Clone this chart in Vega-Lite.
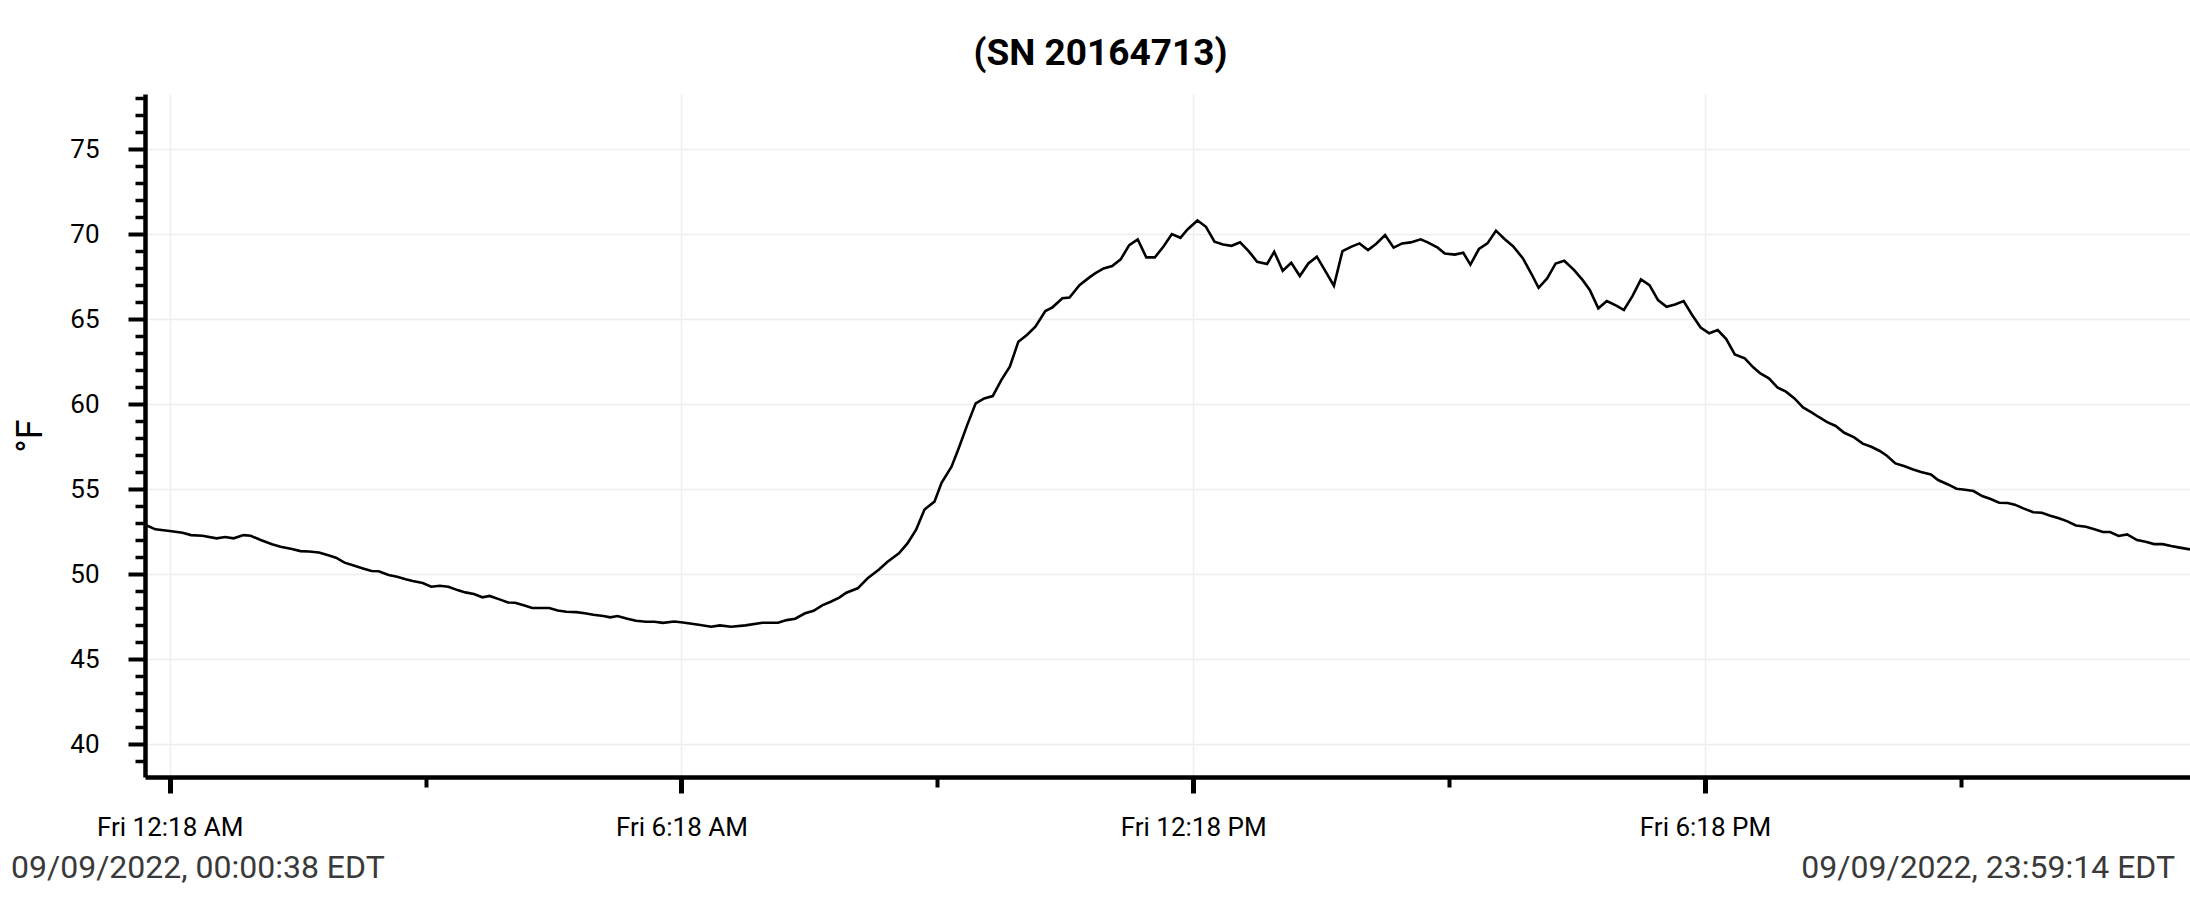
{
  "$schema": "https://vega.github.io/schema/vega-lite/v6.json",
  "autosize": {"type": "none"},
  "width": 2045,
  "height": 683,
  "padding": {"left": 145, "top": 94, "right": 0, "bottom": 126},
  "background": "white",
  "config": {
    "view": {"stroke": null},
    "font": "Roboto"
  },
  "title": {
    "text": "(SN 20164713)",
    "font": "Roboto",
    "fontSize": 37,
    "fontWeight": "bold",
    "color": "black",
    "anchor": "middle",
    "frame": "bounds",
    "baseline": "alphabetic",
    "offset": -17
  },
  "layer": [
    {
      "data": {
        "values": [
          {"t": "2022-09-09T00:00:38", "temp": 52.9},
          {"t": "2022-09-09T00:08", "temp": 52.63},
          {"t": "2022-09-09T00:18", "temp": 52.53},
          {"t": "2022-09-09T00:27", "temp": 52.43},
          {"t": "2022-09-09T00:33", "temp": 52.29},
          {"t": "2022-09-09T00:41", "temp": 52.25},
          {"t": "2022-09-09T00:51", "temp": 52.1},
          {"t": "2022-09-09T00:57", "temp": 52.18},
          {"t": "2022-09-09T01:03", "temp": 52.1},
          {"t": "2022-09-09T01:10", "temp": 52.29},
          {"t": "2022-09-09T01:15", "temp": 52.25},
          {"t": "2022-09-09T01:22", "temp": 52.0},
          {"t": "2022-09-09T01:30", "temp": 51.75},
          {"t": "2022-09-09T01:36", "temp": 51.6},
          {"t": "2022-09-09T01:44", "temp": 51.47},
          {"t": "2022-09-09T01:50", "temp": 51.35},
          {"t": "2022-09-09T01:56", "temp": 51.33},
          {"t": "2022-09-09T02:03", "temp": 51.27},
          {"t": "2022-09-09T02:09", "temp": 51.12},
          {"t": "2022-09-09T02:15", "temp": 50.96},
          {"t": "2022-09-09T02:21", "temp": 50.67},
          {"t": "2022-09-09T02:28", "temp": 50.49},
          {"t": "2022-09-09T02:34", "temp": 50.33},
          {"t": "2022-09-09T02:40", "temp": 50.18},
          {"t": "2022-09-09T02:45", "temp": 50.16},
          {"t": "2022-09-09T02:52", "temp": 49.94},
          {"t": "2022-09-09T02:58", "temp": 49.84},
          {"t": "2022-09-09T03:04", "temp": 49.69},
          {"t": "2022-09-09T03:09", "temp": 49.59},
          {"t": "2022-09-09T03:16", "temp": 49.47},
          {"t": "2022-09-09T03:22", "temp": 49.25},
          {"t": "2022-09-09T03:28", "temp": 49.31},
          {"t": "2022-09-09T03:34", "temp": 49.25},
          {"t": "2022-09-09T03:41", "temp": 49.04},
          {"t": "2022-09-09T03:46", "temp": 48.92},
          {"t": "2022-09-09T03:52", "temp": 48.82},
          {"t": "2022-09-09T03:58", "temp": 48.63},
          {"t": "2022-09-09T04:03", "temp": 48.71},
          {"t": "2022-09-09T04:10", "temp": 48.51},
          {"t": "2022-09-09T04:16", "temp": 48.33},
          {"t": "2022-09-09T04:21", "temp": 48.31},
          {"t": "2022-09-09T04:27", "temp": 48.16},
          {"t": "2022-09-09T04:33", "temp": 48.0},
          {"t": "2022-09-09T04:40", "temp": 48.0},
          {"t": "2022-09-09T04:45", "temp": 48.0},
          {"t": "2022-09-09T04:51", "temp": 47.86},
          {"t": "2022-09-09T04:57", "temp": 47.78},
          {"t": "2022-09-09T05:04", "temp": 47.76},
          {"t": "2022-09-09T05:10", "temp": 47.69},
          {"t": "2022-09-09T05:16", "temp": 47.61},
          {"t": "2022-09-09T05:23", "temp": 47.53},
          {"t": "2022-09-09T05:28", "temp": 47.45},
          {"t": "2022-09-09T05:33", "temp": 47.53},
          {"t": "2022-09-09T05:40", "temp": 47.37},
          {"t": "2022-09-09T05:46", "temp": 47.25},
          {"t": "2022-09-09T05:53", "temp": 47.19},
          {"t": "2022-09-09T05:59", "temp": 47.19},
          {"t": "2022-09-09T06:05", "temp": 47.13},
          {"t": "2022-09-09T06:13", "temp": 47.21},
          {"t": "2022-09-09T06:19", "temp": 47.15},
          {"t": "2022-09-09T06:29", "temp": 47.03},
          {"t": "2022-09-09T06:39", "temp": 46.9},
          {"t": "2022-09-09T06:45", "temp": 46.98},
          {"t": "2022-09-09T06:53", "temp": 46.9},
          {"t": "2022-09-09T07:03", "temp": 46.98},
          {"t": "2022-09-09T07:15", "temp": 47.13},
          {"t": "2022-09-09T07:26", "temp": 47.13},
          {"t": "2022-09-09T07:32", "temp": 47.29},
          {"t": "2022-09-09T07:38", "temp": 47.37},
          {"t": "2022-09-09T07:45", "temp": 47.69},
          {"t": "2022-09-09T07:51", "temp": 47.84},
          {"t": "2022-09-09T07:57", "temp": 48.16},
          {"t": "2022-09-09T08:03", "temp": 48.37},
          {"t": "2022-09-09T08:09", "temp": 48.61},
          {"t": "2022-09-09T08:14", "temp": 48.9},
          {"t": "2022-09-09T08:22", "temp": 49.16},
          {"t": "2022-09-09T08:29", "temp": 49.75},
          {"t": "2022-09-09T08:37", "temp": 50.27},
          {"t": "2022-09-09T08:43", "temp": 50.72},
          {"t": "2022-09-09T08:51", "temp": 51.22},
          {"t": "2022-09-09T08:57", "temp": 51.8},
          {"t": "2022-09-09T09:03", "temp": 52.59},
          {"t": "2022-09-09T09:09", "temp": 53.8},
          {"t": "2022-09-09T09:16", "temp": 54.26},
          {"t": "2022-09-09T09:21", "temp": 55.37},
          {"t": "2022-09-09T09:28", "temp": 56.31},
          {"t": "2022-09-09T09:33", "temp": 57.39},
          {"t": "2022-09-09T09:39", "temp": 58.76},
          {"t": "2022-09-09T09:45", "temp": 60.04},
          {"t": "2022-09-09T09:51", "temp": 60.33},
          {"t": "2022-09-09T09:57", "temp": 60.47},
          {"t": "2022-09-09T10:03", "temp": 61.41},
          {"t": "2022-09-09T10:09", "temp": 62.2},
          {"t": "2022-09-09T10:15", "temp": 63.67},
          {"t": "2022-09-09T10:21", "temp": 64.06},
          {"t": "2022-09-09T10:27", "temp": 64.55},
          {"t": "2022-09-09T10:34", "temp": 65.47},
          {"t": "2022-09-09T10:39", "temp": 65.69},
          {"t": "2022-09-09T10:46", "temp": 66.22},
          {"t": "2022-09-09T10:51", "temp": 66.27},
          {"t": "2022-09-09T10:58", "temp": 66.99},
          {"t": "2022-09-09T11:05", "temp": 67.45},
          {"t": "2022-09-09T11:09", "temp": 67.69},
          {"t": "2022-09-09T11:15", "temp": 67.98},
          {"t": "2022-09-09T11:21", "temp": 68.12},
          {"t": "2022-09-09T11:27", "temp": 68.51},
          {"t": "2022-09-09T11:33", "temp": 69.35},
          {"t": "2022-09-09T11:39", "temp": 69.69},
          {"t": "2022-09-09T11:45", "temp": 68.63},
          {"t": "2022-09-09T11:51", "temp": 68.63},
          {"t": "2022-09-09T11:57", "temp": 69.25},
          {"t": "2022-09-09T12:03", "temp": 70.0},
          {"t": "2022-09-09T12:09", "temp": 69.78},
          {"t": "2022-09-09T12:14", "temp": 70.27},
          {"t": "2022-09-09T12:21", "temp": 70.8},
          {"t": "2022-09-09T12:27", "temp": 70.43},
          {"t": "2022-09-09T12:33", "temp": 69.55},
          {"t": "2022-09-09T12:39", "temp": 69.39},
          {"t": "2022-09-09T12:45", "temp": 69.31},
          {"t": "2022-09-09T12:51", "temp": 69.51},
          {"t": "2022-09-09T12:57", "temp": 69.0},
          {"t": "2022-09-09T13:03", "temp": 68.37},
          {"t": "2022-09-09T13:10", "temp": 68.24},
          {"t": "2022-09-09T13:15", "temp": 68.96},
          {"t": "2022-09-09T13:21", "temp": 67.84},
          {"t": "2022-09-09T13:27", "temp": 68.31},
          {"t": "2022-09-09T13:33", "temp": 67.53},
          {"t": "2022-09-09T13:39", "temp": 68.27},
          {"t": "2022-09-09T13:45", "temp": 68.67},
          {"t": "2022-09-09T13:51", "temp": 67.82},
          {"t": "2022-09-09T13:57", "temp": 66.96},
          {"t": "2022-09-09T14:03", "temp": 69.0},
          {"t": "2022-09-09T14:09", "temp": 69.25},
          {"t": "2022-09-09T14:15", "temp": 69.45},
          {"t": "2022-09-09T14:21", "temp": 69.06},
          {"t": "2022-09-09T14:27", "temp": 69.45},
          {"t": "2022-09-09T14:33", "temp": 69.94},
          {"t": "2022-09-09T14:39", "temp": 69.2},
          {"t": "2022-09-09T14:45", "temp": 69.45},
          {"t": "2022-09-09T14:51", "temp": 69.51},
          {"t": "2022-09-09T14:58", "temp": 69.69},
          {"t": "2022-09-09T15:03", "temp": 69.51},
          {"t": "2022-09-09T15:10", "temp": 69.2},
          {"t": "2022-09-09T15:15", "temp": 68.85},
          {"t": "2022-09-09T15:22", "temp": 68.79},
          {"t": "2022-09-09T15:28", "temp": 68.9},
          {"t": "2022-09-09T15:33", "temp": 68.2},
          {"t": "2022-09-09T15:39", "temp": 69.12},
          {"t": "2022-09-09T15:45", "temp": 69.45},
          {"t": "2022-09-09T15:51", "temp": 70.2},
          {"t": "2022-09-09T15:57", "temp": 69.71},
          {"t": "2022-09-09T16:03", "temp": 69.29},
          {"t": "2022-09-09T16:10", "temp": 68.57},
          {"t": "2022-09-09T16:16", "temp": 67.65},
          {"t": "2022-09-09T16:21", "temp": 66.84},
          {"t": "2022-09-09T16:27", "temp": 67.39},
          {"t": "2022-09-09T16:33", "temp": 68.27},
          {"t": "2022-09-09T16:39", "temp": 68.43},
          {"t": "2022-09-09T16:46", "temp": 67.88},
          {"t": "2022-09-09T16:52", "temp": 67.29},
          {"t": "2022-09-09T16:57", "temp": 66.71},
          {"t": "2022-09-09T17:03", "temp": 65.63},
          {"t": "2022-09-09T17:09", "temp": 66.06},
          {"t": "2022-09-09T17:16", "temp": 65.78},
          {"t": "2022-09-09T17:21", "temp": 65.53},
          {"t": "2022-09-09T17:27", "temp": 66.35},
          {"t": "2022-09-09T17:33", "temp": 67.33},
          {"t": "2022-09-09T17:39", "temp": 67.0},
          {"t": "2022-09-09T17:45", "temp": 66.12},
          {"t": "2022-09-09T17:51", "temp": 65.72},
          {"t": "2022-09-09T17:57", "temp": 65.86},
          {"t": "2022-09-09T18:03", "temp": 66.06},
          {"t": "2022-09-09T18:09", "temp": 65.24},
          {"t": "2022-09-09T18:15", "temp": 64.5},
          {"t": "2022-09-09T18:21", "temp": 64.16},
          {"t": "2022-09-09T18:27", "temp": 64.35},
          {"t": "2022-09-09T18:33", "temp": 63.82},
          {"t": "2022-09-09T18:39", "temp": 62.92},
          {"t": "2022-09-09T18:46", "temp": 62.69},
          {"t": "2022-09-09T18:52", "temp": 62.16},
          {"t": "2022-09-09T18:57", "temp": 61.8},
          {"t": "2022-09-09T19:03", "temp": 61.51},
          {"t": "2022-09-09T19:09", "temp": 60.98},
          {"t": "2022-09-09T19:15", "temp": 60.73},
          {"t": "2022-09-09T19:21", "temp": 60.33},
          {"t": "2022-09-09T19:27", "temp": 59.8},
          {"t": "2022-09-09T19:33", "temp": 59.51},
          {"t": "2022-09-09T19:38", "temp": 59.24},
          {"t": "2022-09-09T19:44", "temp": 58.94},
          {"t": "2022-09-09T19:50", "temp": 58.71},
          {"t": "2022-09-09T19:56", "temp": 58.31},
          {"t": "2022-09-09T20:03", "temp": 58.04},
          {"t": "2022-09-09T20:09", "temp": 57.67},
          {"t": "2022-09-09T20:15", "temp": 57.49},
          {"t": "2022-09-09T20:21", "temp": 57.24},
          {"t": "2022-09-09T20:26", "temp": 56.96},
          {"t": "2022-09-09T20:32", "temp": 56.51},
          {"t": "2022-09-09T20:38", "temp": 56.35},
          {"t": "2022-09-09T20:44", "temp": 56.16},
          {"t": "2022-09-09T20:50", "temp": 56.0},
          {"t": "2022-09-09T20:57", "temp": 55.86},
          {"t": "2022-09-09T21:02", "temp": 55.53},
          {"t": "2022-09-09T21:09", "temp": 55.27},
          {"t": "2022-09-09T21:15", "temp": 55.02},
          {"t": "2022-09-09T21:21", "temp": 54.96},
          {"t": "2022-09-09T21:27", "temp": 54.88},
          {"t": "2022-09-09T21:33", "temp": 54.59},
          {"t": "2022-09-09T21:39", "temp": 54.41},
          {"t": "2022-09-09T21:45", "temp": 54.19},
          {"t": "2022-09-09T21:51", "temp": 54.18},
          {"t": "2022-09-09T21:56", "temp": 54.08},
          {"t": "2022-09-09T22:02", "temp": 53.86},
          {"t": "2022-09-09T22:09", "temp": 53.63},
          {"t": "2022-09-09T22:15", "temp": 53.61},
          {"t": "2022-09-09T22:21", "temp": 53.43},
          {"t": "2022-09-09T22:27", "temp": 53.28},
          {"t": "2022-09-09T22:33", "temp": 53.1},
          {"t": "2022-09-09T22:39", "temp": 52.86},
          {"t": "2022-09-09T22:46", "temp": 52.78},
          {"t": "2022-09-09T22:52", "temp": 52.63},
          {"t": "2022-09-09T22:58", "temp": 52.47},
          {"t": "2022-09-09T23:03", "temp": 52.47},
          {"t": "2022-09-09T23:09", "temp": 52.24},
          {"t": "2022-09-09T23:15", "temp": 52.33},
          {"t": "2022-09-09T23:22", "temp": 52.0},
          {"t": "2022-09-09T23:28", "temp": 51.9},
          {"t": "2022-09-09T23:34", "temp": 51.76},
          {"t": "2022-09-09T23:40", "temp": 51.76},
          {"t": "2022-09-09T23:46", "temp": 51.65},
          {"t": "2022-09-09T23:51", "temp": 51.57},
          {"t": "2022-09-09T23:59:14", "temp": 51.45}
        ]
      },
      "mark": {"type": "line", "color": "black", "strokeWidth": 2.6, "clip": true},
      "encoding": {
        "x": {
          "field": "t",
          "type": "temporal",
          "title": null,
          "scale": {
            "domain": [
              {"year": 2022, "month": 9, "date": 9, "hours": 0, "minutes": 0, "seconds": 38},
              {"year": 2022, "month": 9, "date": 9, "hours": 23, "minutes": 59, "seconds": 14}
            ],
            "nice": false
          },
          "axis": {
            "values": [
              {"year": 2022, "month": 9, "date": 9, "hours": 0, "minutes": 18},
              {"year": 2022, "month": 9, "date": 9, "hours": 3, "minutes": 18},
              {"year": 2022, "month": 9, "date": 9, "hours": 6, "minutes": 18},
              {"year": 2022, "month": 9, "date": 9, "hours": 9, "minutes": 18},
              {"year": 2022, "month": 9, "date": 9, "hours": 12, "minutes": 18},
              {"year": 2022, "month": 9, "date": 9, "hours": 15, "minutes": 18},
              {"year": 2022, "month": 9, "date": 9, "hours": 18, "minutes": 18},
              {"year": 2022, "month": 9, "date": 9, "hours": 21, "minutes": 18}
            ],
            "tickCount": 1000,
            "format": "%a %-I:%M %p",
            "labelExpr": "hours(datum.value) % 6 == 0 ? datum.label : ''",
            "labelFont": "Roboto",
            "labelFontSize": 26,
            "labelColor": "black",
            "labelPadding": 21,
            "labelFlush": false,
            "labelOverlap": false,
            "domainColor": "black",
            "domainWidth": 4.5,
            "tickColor": "black",
            "tickSize": {"condition": {"test": "hours(datum.value) % 6 == 0", "value": 16}, "value": 10},
            "tickWidth": {"condition": {"test": "hours(datum.value) % 6 == 0", "value": 5}, "value": 4},
            "grid": true,
            "gridColor": "#eeeeee",
            "gridWidth": 1.5,
            "gridOpacity": {"condition": {"test": "hours(datum.value) % 6 == 0", "value": 1}, "value": 0}
          }
        },
        "y": {
          "field": "temp",
          "type": "quantitative",
          "title": "°F",
          "scale": {"domain": [38.06, 78.24], "nice": false, "zero": false},
          "axis": {
            "values": [38, 39, 40, 41, 42, 43, 44, 45, 46, 47, 48, 49, 50, 51, 52, 53, 54, 55, 56, 57, 58, 59, 60, 61, 62, 63, 64, 65, 66, 67, 68, 69, 70, 71, 72, 73, 74, 75, 76, 77, 78],
            "tickCount": 1000,
            "format": "d",
            "labelExpr": "datum.value % 5 == 0 ? datum.label : ''",
            "labelFont": "Roboto",
            "labelFontSize": 26,
            "labelColor": "black",
            "labelPadding": 29,
            "labelOverlap": false,
            "domainColor": "black",
            "domainWidth": 4.5,
            "tickColor": "black",
            "tickSize": {"condition": {"test": "datum.value % 5 == 0", "value": 17}, "value": 10},
            "tickWidth": {"condition": {"test": "datum.value % 5 == 0", "value": 4}, "value": 3.5},
            "grid": true,
            "gridColor": "#eeeeee",
            "gridWidth": 1.5,
            "gridOpacity": {"condition": {"test": "datum.value % 5 == 0", "value": 1}, "value": 0},
            "titleFont": "Roboto",
            "titleFontSize": 36,
            "titleFontWeight": "normal",
            "titleColor": "black",
            "titlePadding": 20
          }
        }
      }
    },
    {
      "data": {"values": [{"t": "2022-09-09T00:00:38", "label": "09/09/2022, 00:00:38 EDT"}]},
      "mark": {"type": "text", "align": "left", "baseline": "alphabetic", "dx": -134, "font": "Roboto", "fontSize": 32, "color": "#3a3a3a"},
      "encoding": {
        "x": {"field": "t", "type": "temporal"},
        "y": {"datum": 32.1},
        "text": {"field": "label"}
      }
    },
    {
      "data": {"values": [{"t": "2022-09-09T23:59:14", "label": "09/09/2022, 23:59:14 EDT"}]},
      "mark": {"type": "text", "align": "right", "baseline": "alphabetic", "dx": -15, "font": "Roboto", "fontSize": 32, "color": "#3a3a3a"},
      "encoding": {
        "x": {"field": "t", "type": "temporal"},
        "y": {"datum": 32.1},
        "text": {"field": "label"}
      }
    }
  ]
}
